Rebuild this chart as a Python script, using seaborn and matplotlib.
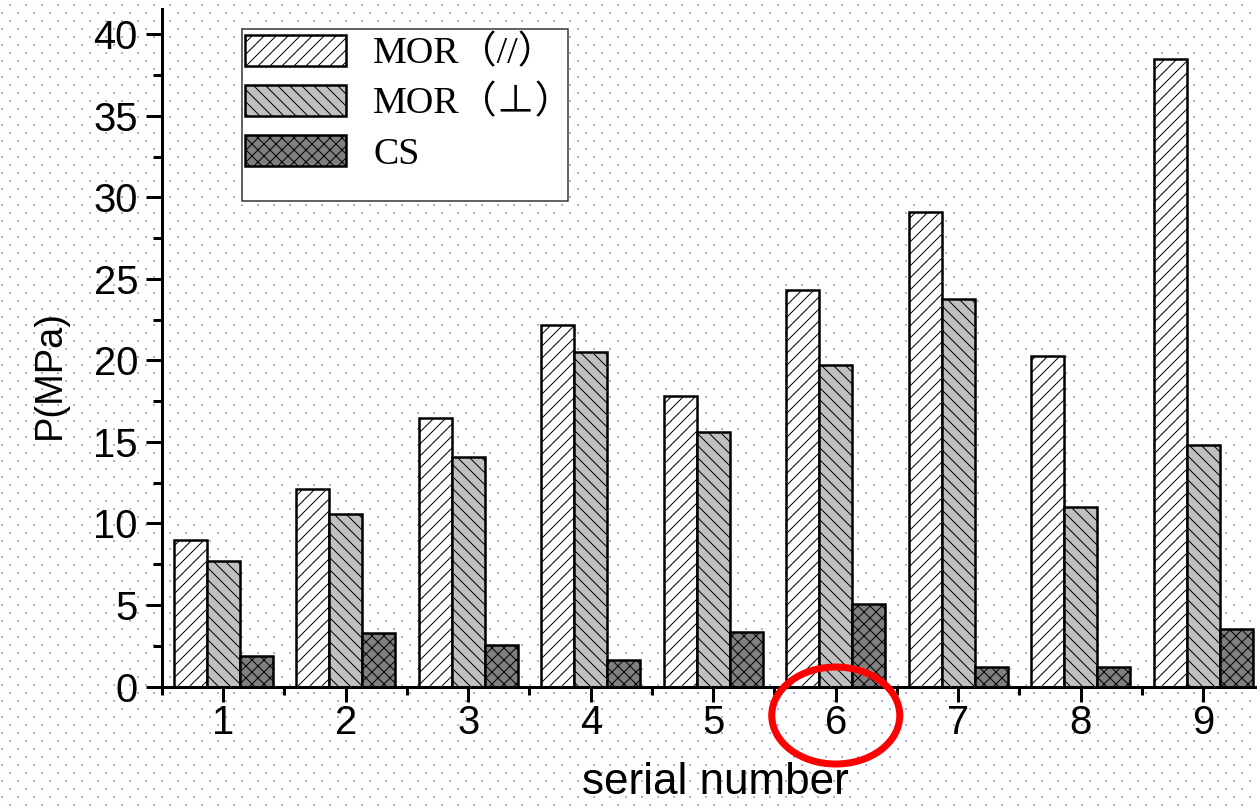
import numpy as np
import pandas as pd
import matplotlib
matplotlib.use('Agg')
import matplotlib.pyplot as plt
import seaborn as sns
from matplotlib.patches import Patch, Rectangle, Ellipse
from matplotlib.ticker import MultipleLocator

serial = [1, 2, 3, 4, 5, 6, 7, 8, 9]
mor_par = [9.0, 12.1, 16.5, 22.2, 17.8, 24.3, 29.1, 20.3, 38.5]
mor_perp = [7.7, 10.6, 14.1, 20.5, 15.6, 19.7, 23.8, 11.0, 14.8]
cs = [1.9, 3.3, 2.55, 1.65, 3.35, 5.05, 1.2, 1.2, 3.55]
labels = ['MOR（//）', 'MOR（⊥）', 'CS']
colors = ['white', '#c0c0c0', '#808080']
hatches = ['//', '\\\\', 'xx']
highlight = 6

df = pd.DataFrame({
    'serial': serial * 3,
    'P': mor_par + mor_perp + cs,
    'type': [labels[0]] * 9 + [labels[1]] * 9 + [labels[2]] * 9,
})

sns.set_style('ticks')
plt.rcParams['font.family'] = ['Liberation Sans', 'DejaVu Sans']
plt.rcParams['hatch.linewidth'] = 1.0
plt.rcParams['text.color'] = 'black'
plt.rcParams['axes.labelcolor'] = 'black'

W, H = 1257, 806
fig = plt.figure(figsize=(W / 72, H / 72), dpi=72)
fig.patch.set_facecolor('white')

# dotted paper background
bg = np.zeros((H, W, 4))
dot = np.array([0.69, 0.69, 0.97, 1.0])
for y0, x0 in [(4, 9), (12, 1)]:
    for dy in range(2):
        for dx in range(2):
            bg[y0 + dy::16, x0 + dx::16] = dot
fig.figimage(bg, xo=0, yo=0, origin='upper', zorder=-1)

ax = fig.add_axes([162 / W, (H - 686.5) / H, 1102.5 / W, 677.5 / H])
ax.set_facecolor('none')

sns.barplot(data=df, x='serial', y='P', hue='type', hue_order=labels,
            palette=colors, native_scale=True, width=0.81, errorbar=None,
            edgecolor='black', linewidth=2.5, saturation=1, legend=False, ax=ax)

for cont, h in zip(ax.containers, hatches):
    for bar in cont:
        bar.set_hatch(h)

ax.set_xlim(0.5, 9.5)
ax.set_ylim(0, 41.56)
ax.set_xticks(serial)
ax.set_xticks(np.arange(0.5, 10, 1), minor=True)
ax.yaxis.set_major_locator(MultipleLocator(5))
ax.yaxis.set_minor_locator(MultipleLocator(2.5))
sns.despine(ax=ax)
for s in ['left', 'bottom']:
    ax.spines[s].set_linewidth(3)
    ax.spines[s].set_color('black')
ax.tick_params(axis='both', which='both', direction='out', width=3, labelsize=40, colors='black')
ax.tick_params(axis='x', which='major', length=15, pad=3)
ax.tick_params(axis='x', which='minor', length=8)
ax.tick_params(axis='y', which='major', length=16, pad=8)
ax.tick_params(axis='y', which='minor', length=9)

ax.set_xlabel('serial number', fontsize=44, color='black')
ax.set_ylabel('P(MPa)', fontsize=38, color='black')
ax.xaxis.set_label_coords(0.5016, -0.112)
ax.yaxis.set_label_coords(-0.0853, 0.46)

handles = [Patch(facecolor=c, edgecolor='black', hatch=h, linewidth=2.5, label=l)
           for c, h, l in zip(colors, hatches, labels)]
frame = Rectangle((242 / W, 1 - 201 / H), 326 / W, 172 / H, transform=fig.transFigure,
                  facecolor='white', edgecolor='#333333', linewidth=1.5, zorder=4, clip_on=False)
ax.add_artist(frame)
leg = ax.legend(handles=handles, loc='upper left', bbox_to_anchor=(245 / W, 1 - 35 / H),
                bbox_transform=fig.transFigure, frameon=False, borderpad=0, borderaxespad=0,
                handlelength=2.66, handleheight=0.87, handletextpad=0.71, labelspacing=0.36,
                prop={'family': ['Liberation Serif', 'Noto Sans CJK SC', 'DejaVu Sans'], 'size': 38})
leg.set_zorder(5)

ring = Ellipse((highlight, -1.78), 1.045, 5.95, transform=ax.transData, fill=False,
               edgecolor='red', linewidth=7, clip_on=False, zorder=6)
ax.add_artist(ring)

fig.savefig('out.png', dpi=72)
